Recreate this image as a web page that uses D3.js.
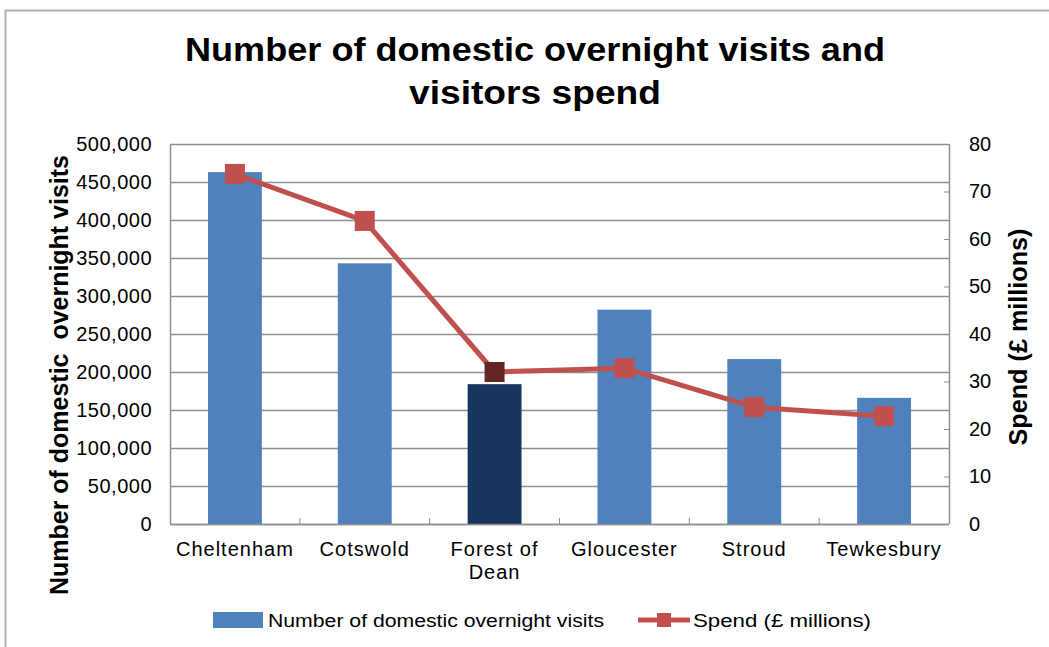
<!DOCTYPE html>
<html lang="en">
  <head>
    <meta charset="utf-8">
    <title>Domestic overnight visits and spend</title>
    <script src="https://d3js.org/d3.v7.js"></script>
    <style>
      body { margin: 0; background: #fff; overflow: hidden; }
      svg { display: block; }
      text { font-family: "Liberation Sans", Arial, sans-serif; }
    </style>
  </head>
  <body>
    <script>

  // chart data
  var districts = [["Cheltenham"], ["Cotswold"], ["Forest of", "Dean"], ["Gloucester"], ["Stroud"], ["Tewkesbury"]];
  var visits = [463000, 343000, 184000, 282000, 217000, 166000];
  var spend = [73.7, 63.8, 32.0, 32.8, 24.6, 22.7];
  var visitTicks = [0, 50000, 100000, 150000, 200000, 250000, 300000, 350000, 400000, 450000, 500000];
  var spendTicks = [0, 10, 20, 30, 40, 50, 60, 70, 80];
  var highlight = 2; // Forest of Dean drawn darker

  var w = 1049;
  var h = 647;
  var margin = {top: 144, right: 100, bottom: 123, left: 170};
  var innerWidth = w - margin.left - margin.right;
  var innerHeight = h - margin.top - margin.bottom;

  var svg = d3.select("body")
    .append("svg")
    .attr("width", w)
    .attr("height", h);

  // outer chart frame (only top and left edges are visible)
  svg.append("path")
    .attr("d", `M5.5,${h} V10.5 H${w}`)
    .attr("fill", "none")
    .attr("stroke", "#b0b0b0")
    .attr("stroke-width", 2);

  // title
  var title = svg.append("text")
    .attr("text-anchor", "middle")
    .attr("font-size", 34)
    .attr("font-weight", "bold")
    .attr("fill", "#000");
  title.append("tspan").attr("x", 535).attr("y", 61)
    .attr("textLength", 700).attr("lengthAdjust", "spacingAndGlyphs")
    .text("Number of domestic overnight visits and");
  title.append("tspan").attr("x", 535).attr("y", 104)
    .attr("textLength", 252).attr("lengthAdjust", "spacingAndGlyphs")
    .text("visitors spend");

  var xScale = d3.scaleBand()
    .domain(d3.range(districts.length))
    .range([0, innerWidth])
    .paddingInner(0.585)
    .paddingOuter(0.2925);

  var yLeft = d3.scaleLinear()
    .domain([0, 500000])
    .range([innerHeight, 0]);

  var yRight = d3.scaleLinear()
    .domain([0, 80])
    .range([innerHeight, 0]);

  var plot = svg.append("g")
    .attr("transform", `translate(${margin.left}, ${margin.top})`);

  // gridlines
  plot.selectAll(".grid")
    .data(visitTicks)
    .enter()
    .append("line")
    .attr("class", "grid")
    .attr("x1", 0).attr("x2", innerWidth)
    .attr("y1", d => Math.round(yLeft(d)) + 0.5)
    .attr("y2", d => Math.round(yLeft(d)) + 0.5)
    .attr("stroke", "#8f8f8f")
    .attr("stroke-width", 1.5);

  // plot border (left and right axis lines)
  plot.append("line")
    .attr("x1", 0.5).attr("x2", 0.5)
    .attr("y1", 0).attr("y2", innerHeight)
    .attr("stroke", "#8f8f8f").attr("stroke-width", 1.5);
  plot.append("line")
    .attr("x1", innerWidth + 0.5).attr("x2", innerWidth + 0.5)
    .attr("y1", 0).attr("y2", innerHeight)
    .attr("stroke", "#8f8f8f").attr("stroke-width", 1.5);

  // bars
  plot.selectAll(".bar")
    .data(visits)
    .enter()
    .append("rect")
    .attr("class", "bar")
    .attr("x", (d, i) => xScale(i))
    .attr("y", d => yLeft(d))
    .attr("width", xScale.bandwidth())
    .attr("height", d => innerHeight - yLeft(d))
    .attr("fill", (d, i) => i === highlight ? "#17375e" : "#4f81bd");

  // x axis line with inner ticks at category boundaries
  var step = xScale.step();
  plot.append("line")
    .attr("x1", 0).attr("x2", innerWidth)
    .attr("y1", innerHeight + 0.5).attr("y2", innerHeight + 0.5)
    .attr("stroke", "#8f8f8f").attr("stroke-width", 1.5);
  plot.selectAll(".sep")
    .data(d3.range(1, districts.length))
    .enter()
    .append("line")
    .attr("class", "sep")
    .attr("x1", i => i * step).attr("x2", i => i * step)
    .attr("y1", innerHeight).attr("y2", innerHeight - 6)
    .attr("stroke", "#8f8f8f");

  // category labels, one text per line
  districts.forEach(function (d, i) {
    d.forEach(function (label, j) {
      plot.append("text")
        .attr("class", "cat")
        .attr("x", xScale(i) + xScale.bandwidth() / 2)
        .attr("y", innerHeight + 32 + j * 23)
        .attr("text-anchor", "middle")
        .attr("font-size", 20)
        .attr("letter-spacing", 1)
        .attr("fill", "#000")
        .text(label);
    });
  });

  // left axis
  var yAxisLeft = d3.axisLeft(yLeft)
    .tickValues(visitTicks)
    .tickSize(0)
    .tickPadding(18)
    .tickFormat(d3.format(","));
  var yl = plot.append("g").call(yAxisLeft);
  yl.attr("font-size", null).attr("font-family", null);
  yl.select(".domain").remove();
  yl.selectAll("text")
    .attr("font-size", 20)
    .attr("letter-spacing", 0.5)
    .attr("fill", "#000");

  // right axis
  var yAxisRight = d3.axisRight(yRight)
    .tickValues(spendTicks)
    .tickSize(-5)
    .tickPadding(20);
  var yr = plot.append("g")
    .attr("transform", `translate(${innerWidth}, 0)`)
    .call(yAxisRight);
  yr.attr("font-size", null).attr("font-family", null);
  yr.select(".domain").remove();
  yr.selectAll("line").attr("stroke", "#8f8f8f");
  yr.selectAll("text")
    .attr("font-size", 20)
    .attr("fill", "#000");

  // pin each label's length to its own measured width
  plot.selectAll(".cat, .tick text").each(function () {
    var len = this.getComputedTextLength();
    d3.select(this).attr("textLength", len).attr("lengthAdjust", "spacingAndGlyphs");
  });

  // spend line
  var line = d3.line()
    .x((d, i) => xScale(i) + xScale.bandwidth() / 2)
    .y(d => yRight(d));

  plot.append("path")
    .datum(spend)
    .attr("d", line)
    .attr("fill", "none")
    .attr("stroke", "#c0504d")
    .attr("stroke-width", 5)
    .attr("stroke-linejoin", "round");

  plot.selectAll(".marker")
    .data(spend)
    .enter()
    .append("rect")
    .attr("class", "marker")
    .attr("x", (d, i) => xScale(i) + xScale.bandwidth() / 2 - 10)
    .attr("y", d => yRight(d) - 10)
    .attr("width", 20)
    .attr("height", 20)
    .attr("fill", (d, i) => i === highlight ? "#632523" : "#c0504d");

  // axis titles
  svg.append("text")
    .attr("transform", "translate(68, 375) rotate(-90)")
    .attr("text-anchor", "middle")
    .attr("font-size", 25)
    .attr("font-weight", "bold")
    .attr("textLength", 440).attr("lengthAdjust", "spacingAndGlyphs")
    .text("Number of domestic\u00a0 overnight visits");

  svg.append("text")
    .attr("transform", "translate(1027, 337) rotate(-90)")
    .attr("text-anchor", "middle")
    .attr("font-size", 25)
    .attr("font-weight", "bold")
    .attr("textLength", 217).attr("lengthAdjust", "spacingAndGlyphs")
    .text("Spend (£ millions)");

  // legend
  var legend = svg.append("g").attr("transform", "translate(213, 620)");
  legend.append("rect")
    .attr("x", 0).attr("y", -8)
    .attr("width", 50).attr("height", 16)
    .attr("fill", "#4f81bd");
  legend.append("text")
    .attr("x", 55).attr("y", 7)
    .attr("font-size", 18)
    .attr("textLength", 336).attr("lengthAdjust", "spacingAndGlyphs")
    .text("Number of domestic overnight visits");
  legend.append("line")
    .attr("x1", 425).attr("x2", 477)
    .attr("y1", 0).attr("y2", 0)
    .attr("stroke", "#c0504d").attr("stroke-width", 5);
  legend.append("rect")
    .attr("x", 444).attr("y", -7)
    .attr("width", 14).attr("height", 14)
    .attr("fill", "#c0504d");
  legend.append("text")
    .attr("x", 480).attr("y", 7)
    .attr("font-size", 18)
    .attr("textLength", 178).attr("lengthAdjust", "spacingAndGlyphs")
    .text("Spend (£ millions)");

    </script>
  </body>
</html>
